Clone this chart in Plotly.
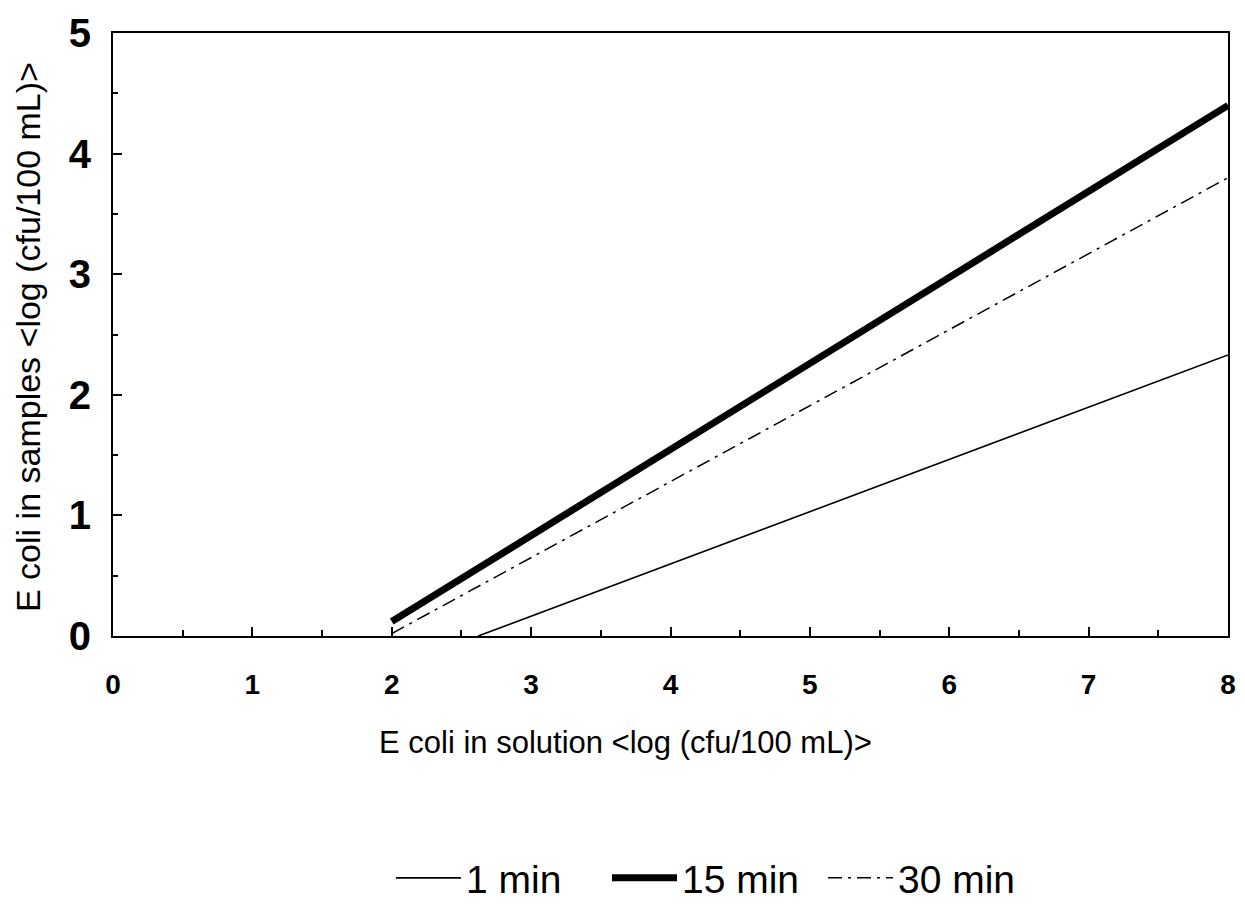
import plotly.graph_objects as go

# Data
series_names = ["1 min", "15 min", "30 min"]
x_1min = [2.62, 8.0]
y_1min = [0.0, 2.33]
x_15min = [2.0, 8.0]
y_15min = [0.12, 4.40]
x_30min = [2.0, 8.0]
y_30min = [0.02, 3.80]
x_ticks = [0, 1, 2, 3, 4, 5, 6, 7, 8]
y_ticks = [0, 1, 2, 3, 4, 5]

FONT = "Liberation Sans, Arial, sans-serif"

fig = go.Figure()
fig.add_trace(go.Scatter(x=x_1min, y=y_1min, mode="lines", name=series_names[0],
                         line=dict(color="black", width=1.6)))
fig.add_trace(go.Scatter(x=x_15min, y=y_15min, mode="lines", name=series_names[1],
                         line=dict(color="black", width=7)))
fig.add_trace(go.Scatter(x=x_30min, y=y_30min, mode="lines", name=series_names[2],
                         line=dict(color="black", width=1.5, dash="14px,6px,3px,6px")))

fig.update_layout(
    width=1245, height=904,
    margin=dict(l=113, r=17, t=33, b=268, autoexpand=False),
    paper_bgcolor="white", plot_bgcolor="white",
    font=dict(family=FONT, color="black"),
    showlegend=True,
    legend=dict(orientation="h", x=(715 - 113) / 1115, xanchor="center",
                yref="container", y=(904 - 878) / 904, yanchor="middle",
                font=dict(size=39, family=FONT), itemwidth=65, entrywidth=136,
                tracegroupgap=0, bgcolor="rgba(0,0,0,0)"),
)
fig.update_xaxes(range=[0, 8], tickvals=x_ticks, ticks="inside", ticklen=9, tickwidth=1.5,
                 tickcolor="black", showline=True, linecolor="black", linewidth=2,
                 mirror=True, showgrid=False, zeroline=False,
                 tickfont=dict(size=28, family=FONT, weight="bold"), ticklabelstandoff=22,
                 minor=dict(dtick=0.5, ticks="inside", ticklen=6, tickwidth=1.5, tickcolor="black"))
fig.update_yaxes(range=[0, 5], tickvals=y_ticks, ticks="inside", ticklen=9, tickwidth=1.5,
                 tickcolor="black", showline=True, linecolor="black", linewidth=2,
                 mirror=True, showgrid=False, zeroline=False,
                 tickfont=dict(size=40, family=FONT, weight="bold"), ticklabelstandoff=12,
                 minor=dict(dtick=0.5, ticks="inside", ticklen=5, tickwidth=1.5, tickcolor="black"))

fig.add_annotation(text="E coli in solution &lt;log (cfu/100 mL)&gt;", xref="paper", yref="paper",
                   x=(625 - 113) / 1115, y=(636 - 742) / 603, xanchor="center", yanchor="middle",
                   showarrow=False, font=dict(size=31, family=FONT))
fig.add_annotation(text="E coli in samples &lt;log (cfu/100 mL)&gt;", xref="paper", yref="paper",
                   x=(28 - 113) / 1115, y=(636 - 337) / 603, xanchor="center", yanchor="middle",
                   textangle=-90, showarrow=False, font=dict(size=34, family=FONT))

fig.write_html("out.html")
